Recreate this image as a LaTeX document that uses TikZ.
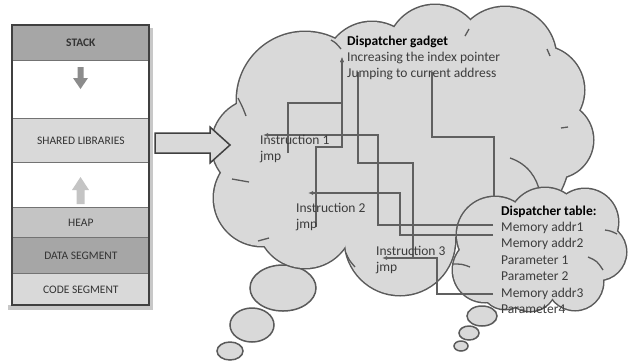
\documentclass[tikz,border=0pt]{standalone}
\usepackage{fontspec}
\setmainfont{Carlito}
\usetikzlibrary{arrows.meta}
\definecolor{cloudfill}{HTML}{D9D9D9}
\definecolor{cloudedge}{HTML}{5A5A5A}
\definecolor{connc}{HTML}{606060}
\definecolor{txtc}{HTML}{3C3C3C}
\definecolor{darkband}{HTML}{A6A6A6}
\definecolor{lightband}{HTML}{D9D9D9}
\definecolor{heapband}{HTML}{C4C4C4}
\definecolor{shadowc}{HTML}{C8C8C8}
\begin{document}
\begin{tikzpicture}[x=1pt,y=-1pt,
  conn/.style={draw=connc, line width=1.5pt},
  tip/.style={-{Latex[length=5pt,width=4pt]}},
  inarc/.style={draw=cloudedge, line width=1.3pt},
  txt/.style={anchor=base west, inner sep=0pt, text=txtc, font=\fontsize{13.5}{16}\selectfont},
  hdr/.style={anchor=base west, inner sep=0pt, text=black, font=\fontsize{13.5}{16}\selectfont\bfseries},
  band/.style={anchor=north west, inner sep=0pt, minimum width=137pt, draw=black!55, line width=0.7pt,
    text=black!80, font=\fontsize{11.5}{13}\selectfont},
  bubble/.style={draw=cloudedge, fill=cloudfill, line width=1.5pt}
]
\useasboundingbox (0,0) rectangle (628,360);
\fill[white] (0,0) rectangle (628,360);

% ---------- thought bubbles of the big cloud
\path[bubble] (230,351) ellipse[x radius=13pt, y radius=9pt];
\path[bubble] (252,325) ellipse[x radius=22pt, y radius=17pt];
\path[bubble] (283,288) ellipse[x radius=33pt, y radius=23pt];

% ---------- big cloud (union of circles)
\def\bigcloud#1{%
  \path[#1] (305,100) circle[radius=68pt];
  \path[#1] (372,70) circle[radius=48pt];
  \path[#1] (435,53) circle[radius=48pt];
  \path[#1] (505,58) circle[radius=51pt];
  \path[#1] (540,90) circle[radius=44pt];
  \path[#1] (555,140) circle[radius=38pt];
  \path[#1] (258,145) circle[radius=46pt];
  \path[#1] (262,198) circle[radius=48pt];
  \path[#1] (305,220) circle[radius=48pt];
  \path[#1] (400,240) circle[radius=55pt];
  \path[#1] (400,140) circle[radius=110pt];
  \path[#1] (480,150) circle[radius=90pt];
}
\bigcloud{draw=cloudedge, line width=3pt}
\bigcloud{fill=cloudfill}
% inner arcs
\draw[inarc] (238,98) .. controls (243,108) .. (246,116);
\draw[inarc] (232,179) .. controls (240,181) .. (249,182);
\draw[inarc] (258,241) .. controls (263,239) .. (269,238);
\draw[inarc] (346,253) .. controls (349,260) .. (355,267);
\draw[inarc] (331,40) .. controls (336,43) .. (341,49);
\draw[inarc] (469,29) .. controls (467,32) .. (465,36);
\draw[inarc] (547,49) .. controls (549,52) .. (550,56);
\draw[inarc] (568,127) .. controls (565,128) .. (561,128);
\draw[inarc] (510,158) .. controls (528,164) and (537,178) .. (540,193);

% ---------- small cloud bubbles
\path[bubble] (461,346) ellipse[x radius=7pt, y radius=5pt];
\path[bubble] (469,333) ellipse[x radius=10pt, y radius=7pt];
\path[bubble] (482,316) ellipse[x radius=15pt, y radius=10pt];

% ---------- small cloud
\def\smallcloud#1{%
  \path[#1] (495,235) circle[radius=38pt];
  \path[#1] (545,225) circle[radius=37pt];
  \path[#1] (585,222) circle[radius=33pt];
  \path[#1] (598,252) circle[radius=28pt];
  \path[#1] (575,282) circle[radius=28pt];
  \path[#1] (530,285) circle[radius=26pt];
  \path[#1] (505,285) circle[radius=24pt];
  \path[#1] (485,270) circle[radius=32pt];
  \path[#1] (540,255) circle[radius=40pt];
}
\smallcloud{draw=cloudedge, line width=3pt}
\smallcloud{fill=cloudfill}
\draw[inarc] (588,257) .. controls (597,261) .. (603,270);
\draw[inarc] (452,264) .. controls (462,264) .. (470,267);
\draw[inarc] (605,230) .. controls (611,231) .. (617,234);

% ---------- connector end points
\coordinate (gin) at (342,57);
\coordinate (gout3) at (358,72);
\coordinate (gout) at (432,72);
\coordinate (tin) at (494,197);
\coordinate (i1src) at (288,153);
\coordinate (i2src) at (316,227);
\coordinate (i3src) at (413,257);
\coordinate (i1dst) at (263,135);
\coordinate (i2dst) at (308,193);
\coordinate (i3dst) at (382,258);
\coordinate (m1) at (493,225);
\coordinate (m2) at (493,235);
\coordinate (m3) at (493,294);

\draw[conn,tip] (i1src) -- ++(0,-50) -| (gin);
\draw[conn,tip] (i2src) -- ++(0,-80) -| (gin);
\draw[conn] (i3src) -- ++(0,-94) -| (gout3);
\draw[conn] (gout) -- ++(0,65) -| (tin);
\draw[conn,tip] (m1) -- ++(-115,0) |- (i1dst);
\draw[conn,tip] (m2) -- ++(-93,0) |- (i2dst);
\draw[conn,tip] (m3) -- ++(-56,0) |- (i3dst);

% ---------- texts in the clouds
\node[hdr] (g0) at (347,45) {Dispatcher gadget};
\node[txt] (g1) at (347,61) {Increasing the index pointer};
\node[txt] (g2) at (347,77) {Jumping to current address};

\node[txt] (in1) at (260,144) {Instruction 1};
\node[txt] (j1) at (260,160) {jmp};
\node[txt] (in2) at (296,212) {Instruction 2};
\node[txt] (j2) at (296,228) {jmp};
\node[txt] (in3) at (376,255) {Instruction 3};
\node[txt] (j3) at (376,271) {jmp};

\node[hdr] (t0) at (501,215) {Dispatcher table:};
\node[txt] (t1) at (501,231) {Memory addr1};
\node[txt] (t2) at (501,247.5) {Memory addr2};
\node[txt] (t3) at (501,264) {Parameter 1};
\node[txt] (t4) at (501,280.5) {Parameter 2};
\node[txt] (t5) at (501,297) {Memory addr3};
\node[txt] (t6) at (501,313) {Parameter4};

% ---------- big arrow
\draw[fill=cloudfill, draw=black!75, line width=1.5pt, line join=miter]
  (155,133) -- (210,133) -- (210,127) -- (230,145) -- (210,163) -- (210,153) -- (155,153) -- cycle;

% ---------- memory layout stack
\fill[shadowc] (149,28) rectangle (153,310);
\fill[shadowc] (8,305) rectangle (153,310);
\node[band, fill=darkband, minimum height=35pt, font=\fontsize{11.5}{13}\selectfont\bfseries] (stk) at (12,25) {STACK};
\node[band, fill=white, minimum height=58pt] (free1) at (12,60) {};
\node[band, fill=lightband, minimum height=44pt] (shl) at (12,118) {SHARED LIBRARIES};
\node[band, fill=white, minimum height=45pt] (free2) at (12,162) {};
\node[band, fill=heapband, minimum height=30pt] (heap) at (12,207) {HEAP};
\node[band, fill=darkband, minimum height=36pt] (data) at (12,237) {DATA SEGMENT};
\node[band, fill=lightband, minimum height=32pt] (code) at (12,273) {CODE SEGMENT};
\draw[black!75, line width=1.5pt] (12,25) rectangle (149,305);
\fill[black!45] (77.5,67) -- (83.5,67) -- (83.5,78) -- (88,78) -- (80.5,89) -- (73,78) -- (77.5,78) -- cycle;
\fill[heapband] (80.5,177) -- (89,190) -- (84.5,190) -- (84.5,204) -- (76.5,204) -- (76.5,190) -- (72,190) -- cycle;
\end{tikzpicture}
\end{document}
